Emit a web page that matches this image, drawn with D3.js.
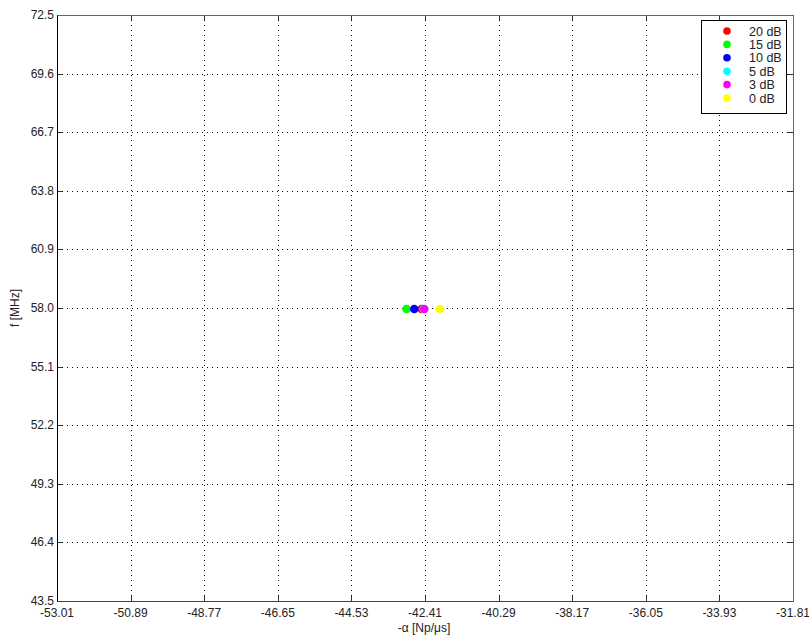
<!DOCTYPE html>
<html><head><meta charset="utf-8">
<script src="https://cdn.jsdelivr.net/npm/d3@7"></script>
<style>body{margin:0;background:#fff}text{font-family:"Liberation Sans",Arial,sans-serif}</style>
</head><body><svg id="c" width="809" height="636"></svg>
<script>
const xTicks = [-53.01,-50.89,-48.77,-46.65,-44.53,-42.41,-40.29,-38.17,-36.05,-33.93,-31.81];
const yTicks = [43.5,46.4,49.3,52.2,55.1,58.0,60.9,63.8,66.7,69.6,72.5];
const series = ["20 dB","15 dB","10 dB","5 dB","3 dB","0 dB"];
const colors = ["#ff0000","#00ff00","#0000ff","#00ffff","#ff00ff","#ffff00"];
const alphaVals = [-42.51,-42.94,-42.72,-42.45,-42.43,-41.98];
const freqVals = [57.95,57.95,57.95,57.95,57.95,57.95];

const svg = d3.select("#c");
const L=57,T=15,R=793,B=601;
const x = d3.scaleLinear().domain([-53.01,-31.81]).range([L,R]);
const y = d3.scaleLinear().domain([43.5,72.5]).range([B,T]);

// grid
const g = svg.append("g");
g.selectAll(".vx").data(xTicks.slice(1,-1)).enter().append("line")
 .attr("x1",d=>Math.round(x(d))+0.5).attr("x2",d=>Math.round(x(d))+0.5).attr("y1",T).attr("y2",B)
 .attr("stroke","#000").attr("stroke-width",1).attr("stroke-dasharray","1,4");
g.selectAll(".hy").data(yTicks.slice(1,-1)).enter().append("line")
 .attr("y1",d=>Math.round(y(d))+0.5).attr("y2",d=>Math.round(y(d))+0.5).attr("x1",L).attr("x2",R)
 .attr("stroke","#000").attr("stroke-width",1).attr("stroke-dasharray","1,4");

// tick marks
const tl=5;
xTicks.forEach(d=>{const xx=Math.round(x(d))+0.5;
 svg.append("line").attr("x1",xx).attr("x2",xx).attr("y1",B).attr("y2",B-tl).attr("stroke","#333");
 svg.append("line").attr("x1",xx).attr("x2",xx).attr("y1",T).attr("y2",T+tl).attr("stroke","#333");});
yTicks.forEach(d=>{const yy=Math.round(y(d))+0.5;
 svg.append("line").attr("y1",yy).attr("y2",yy).attr("x1",L).attr("x2",L+tl).attr("stroke","#333");
 svg.append("line").attr("y1",yy).attr("y2",yy).attr("x1",R).attr("x2",R-tl).attr("stroke","#333");});

// box
svg.append("line").attr("x1",L+0.5).attr("x2",R+0.5).attr("y1",T+0.5).attr("y2",T+0.5).attr("stroke","#666");
svg.append("line").attr("x1",R+0.5).attr("x2",R+0.5).attr("y1",T+0.5).attr("y2",B+0.5).attr("stroke","#666");
svg.append("line").attr("x1",L+0.5).attr("x2",R+0.5).attr("y1",B+0.5).attr("y2",B+0.5).attr("stroke","#444");
svg.append("line").attr("x1",L+0.5).attr("x2",L+0.5).attr("y1",T+0.5).attr("y2",B+0.5).attr("stroke","#000");

// tick labels
svg.selectAll(".xl").data(xTicks).enter().append("text")
 .attr("x",d=>x(d)).attr("y",B+16).attr("text-anchor","middle").attr("font-size",12).attr("fill","#222")
 .text(d=>d.toFixed(2));
svg.selectAll(".yl").data(yTicks).enter().append("text")
 .attr("x",L-3).attr("y",d=>y(d)+4).attr("text-anchor","end").attr("font-size",12).attr("fill","#222")
 .text(d=>d.toFixed(1));

// axis titles
svg.append("text").attr("x",(L+R)/2-1).attr("y",632).attr("text-anchor","middle").attr("font-size",12).attr("fill","#222").text("-α [Np/μs]");
svg.append("text").attr("transform",`translate(19,${(T+B)/2}) rotate(-90)`).attr("text-anchor","middle").attr("font-size",12).attr("fill","#222").text("f [MHz]");

// points
svg.selectAll(".pt").data(series).enter().append("circle")
 .attr("cx",(d,i)=>x(alphaVals[i])).attr("cy",(d,i)=>y(freqVals[i])).attr("r",4.3)
 .attr("fill",(d,i)=>colors[i]);

// legend
const lg = svg.append("g");
lg.append("rect").attr("x",701.5).attr("y",20.5).attr("width",85).attr("height",93).attr("fill","#fff").attr("stroke","#000");
series.forEach((s,i)=>{
 const yy=31+i*13.4;
 lg.append("circle").attr("cx",727).attr("cy",yy).attr("r",3.8).attr("fill",colors[i]);
 lg.append("text").attr("x",749).attr("y",yy+4.5).attr("font-size",12.5).attr("fill","#222").text(s);
});
</script></body></html>
